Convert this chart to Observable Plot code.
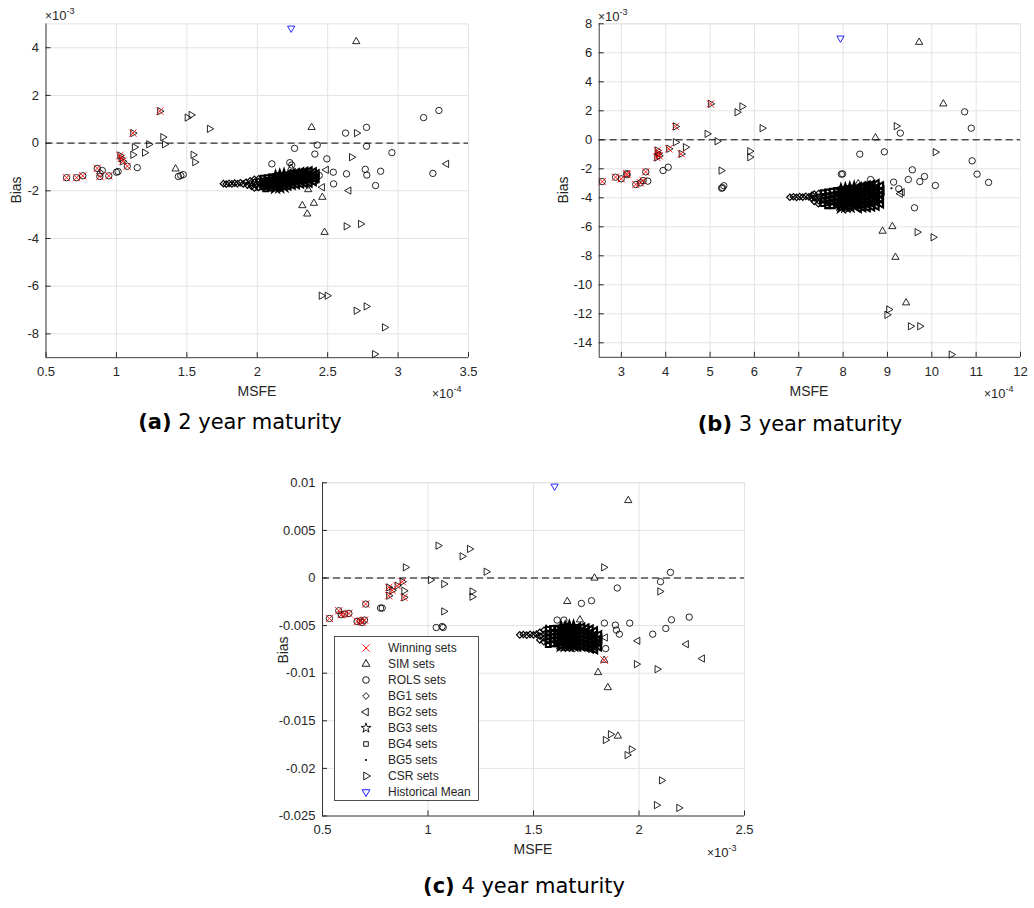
<!DOCTYPE html>
<html><head><meta charset="utf-8">
<script src="https://cdn.jsdelivr.net/npm/d3@7"></script>
<script src="https://cdn.jsdelivr.net/npm/@observablehq/plot@0.6"></script>
<style>
html,body{margin:0;padding:0;background:#fff;}
body{width:1034px;height:908px;position:relative;overflow:hidden;font-family:"Liberation Sans",Arial,sans-serif;}
.panel{position:absolute}
.lbl{position:absolute;font-size:14px;line-height:16px;color:#262626;white-space:nowrap}
.ex{font-size:13px}
.cap{position:absolute;font-family:"DejaVu Sans",sans-serif;font-size:21px;line-height:21px;color:#000;white-space:nowrap;transform:translateX(-50%)}
.sup{font-size:9px;position:relative;top:-6px}
.tm{font-size:12px}
</style></head><body>
<script>
// ---------------- Panel (a): 2 year maturity (MSFE x1e-4, Bias x1e-3) ----------------
const A_xTicks = [0.5,1,1.5,2,2.5,3,3.5];
const A_yTicks = [-8,-6,-4,-2,0,2,4];
const A_win = [[0.646,-1.45],[0.717,-1.45],[0.761,-1.37],[0.864,-1.06],[0.882,-1.40],[0.946,-1.37],[1.077,-0.97],[1.025,-0.52],[1.035,-0.64],[1.045,-0.76],[1.117,0.42],[1.308,1.34]];
const A_rols = [[0.646,-1.45],[0.717,-1.45],[0.761,-1.37],[0.864,-1.06],[0.882,-1.40],[0.946,-1.37],[1.077,-0.97],[0.900,-1.15],[0.885,-1.27],[1.000,-1.22],[1.012,-1.19],[1.148,-1.03],[1.440,-1.40],[1.457,-1.36],[1.474,-1.32],[2.265,-0.22],[2.426,-0.08],[2.409,-0.46],[2.494,-0.66],[2.627,0.42],[2.776,0.66],[2.776,-0.13],[2.956,-0.40],[3.181,1.07],[3.290,1.37],[2.104,-0.87],[2.231,-0.82],[2.245,-0.92],[2.767,-1.10],[2.876,-1.18],[2.634,-1.29],[2.778,-1.34],[2.540,-1.22],[2.440,-1.36],[2.542,-1.71],[2.840,-1.78],[3.247,-1.27]];
const A_csr = [[1.025,-0.52],[1.035,-0.64],[1.045,-0.76],[1.117,0.42],[1.308,1.34],[1.128,-0.17],[1.117,-0.49],[1.200,-0.40],[1.230,-0.05],[1.330,0.25],[1.342,-0.05],[1.503,1.07],[1.531,1.18],[1.661,0.60],[1.545,-0.49],[1.557,-0.80],[2.705,0.42],[2.670,-0.59],[2.632,-3.49],[2.734,-3.39],[2.455,-6.40],[2.497,-6.40],[2.703,-7.03],[2.774,-6.85],[2.904,-7.73],[2.833,-8.85]];
const A_sim = [[1.420,-1.08],[2.703,4.26],[2.386,0.66],[2.362,-1.95],[2.462,-2.27],[2.402,-2.52],[2.320,-2.62],[2.355,-2.97],[2.478,-3.74],[2.240,-1.05]];
const A_hist = [[2.241,4.82]];
const A_bg1 = [[1.76,-1.70],[1.78,-1.72],[1.80,-1.69],[1.82,-1.71],[1.84,-1.68],[1.86,-1.70],[1.88,-1.66],[1.90,-1.71],[1.92,-1.64],[1.93,-1.76],[1.95,-1.58],[1.95,-1.70],[1.96,-1.82],[1.98,-1.52],[1.98,-1.64],[1.99,-1.76],[1.98,-1.88],[2.01,-1.50],[2.01,-1.62],[2.02,-1.74],[2.01,-1.86]];
const A_bg4 = [[2.04,-1.47],[2.04,-1.59],[2.05,-1.71],[2.04,-1.83],[2.07,-1.45],[2.07,-1.57],[2.08,-1.69],[2.07,-1.81],[2.06,-1.92],[2.10,-1.42],[2.10,-1.54],[2.11,-1.66],[2.10,-1.78],[2.10,-1.88]];
const A_bg3 = [[2.13,-1.40],[2.13,-1.52],[2.14,-1.64],[2.13,-1.76],[2.13,-1.86],[2.16,-1.36],[2.16,-1.48],[2.17,-1.60],[2.16,-1.72],[2.16,-1.84],[2.19,-1.33],[2.19,-1.45],[2.20,-1.57],[2.19,-1.69],[2.19,-1.81]];
const A_bg2 = [[2.22,-1.30],[2.22,-1.42],[2.23,-1.54],[2.22,-1.66],[2.22,-1.78],[2.25,-1.27],[2.25,-1.39],[2.26,-1.51],[2.25,-1.63],[2.25,-1.75],[2.28,-1.25],[2.28,-1.37],[2.29,-1.49],[2.28,-1.61],[2.28,-1.73],[2.31,-1.22],[2.31,-1.34],[2.32,-1.46],[2.31,-1.58],[2.31,-1.70],[2.34,-1.20],[2.34,-1.32],[2.35,-1.44],[2.34,-1.56],[2.34,-1.68],[2.37,-1.18],[2.37,-1.30],[2.38,-1.42],[2.37,-1.54],[2.37,-1.66],[2.40,-1.22],[2.40,-1.35],[2.41,-1.48],[2.40,-1.60],[2.42,-1.30],[2.42,-1.45]];
const A_bg2_scatter = [[3.344,-0.87],[2.49,-1.12],[2.462,-1.85],[2.65,-1.99]];
const A_bg5 = [[2.12,-1.35],[2.18,-1.30],[2.26,-1.22],[2.33,-1.15],[2.15,-1.92],[2.24,-1.86],[2.36,-1.78],[2.00,-1.96]];

// ---------------- Panel (b): 3 year maturity (MSFE x1e-4, Bias x1e-3) ----------------
const B_xTicks = [3,4,5,6,7,8,9,10,11,12];
const B_yTicks = [-14,-12,-10,-8,-6,-4,-2,0,2,4,6,8];
const B_win = [[2.568,-2.88],[2.868,-2.58],[2.996,-2.69],[3.13,-2.41],[3.12,-2.33],[3.325,-3.08],[3.43,-2.97],[3.49,-2.81],[3.55,-2.21],[3.81,-0.74],[3.83,-0.95],[3.85,-1.10],[3.80,-1.22],[4.07,-0.62],[4.22,0.92],[4.35,-0.97],[5.01,2.48]];
const B_rols = [[2.568,-2.88],[2.868,-2.58],[2.996,-2.69],[3.13,-2.41],[3.12,-2.33],[3.325,-3.08],[3.43,-2.97],[3.49,-2.81],[3.55,-2.21],[3.596,-2.85],[3.94,-2.12],[4.056,-1.89],[5.26,-3.34],[5.31,-3.17],[5.28,-3.30],[10.74,1.93],[10.89,0.80],[9.29,0.46],[8.376,-0.99],[8.93,-0.83],[10.91,-1.45],[11.02,-2.37],[11.28,-2.94],[9.56,-2.07],[9.835,-2.53],[9.73,-2.88],[9.47,-2.74],[10.08,-3.15],[9.14,-2.92],[9.255,-3.38],[7.96,-2.37],[7.99,-2.35],[9.61,-4.69],[8.62,-2.74],[8.58,-3.10]];
const B_csr = [[3.81,-0.74],[3.83,-0.95],[3.85,-1.10],[3.80,-1.22],[4.07,-0.62],[4.22,0.92],[4.35,-0.97],[5.01,2.48],[4.22,-0.17],[4.446,-0.51],[4.935,0.41],[5.16,-0.10],[5.25,-2.12],[5.61,1.90],[5.72,2.30],[6.175,0.80],[5.896,-0.79],[5.896,-1.20],[9.20,0.94],[10.08,-0.85],[9.67,-6.37],[10.03,-6.72],[9.03,-11.70],[8.99,-12.07],[9.52,-12.86],[9.73,-12.86],[10.44,-14.81]];
const B_sim = [[9.715,6.73],[10.26,2.48],[8.73,0.14],[8.89,-6.30],[9.11,-5.98],[9.18,-8.10],[9.42,-11.24],[8.34,-3.03],[8.85,-3.60]];
const B_hist = [[7.94,7.01]];
const B_bg1 = [[6.80,-3.96],[6.88,-3.93],[6.95,-3.97],[7.02,-3.92],[7.09,-3.95],[7.16,-3.90],[7.23,-3.94],[7.30,-3.82],[7.30,-4.05],[7.35,-3.75],[7.36,-4.00],[7.35,-4.25],[7.45,-3.70],[7.46,-3.95],[7.45,-4.20],[7.44,-4.40]];
const B_bg4 = [[7.55,-3.65],[7.56,-3.90],[7.55,-4.15],[7.54,-4.40],[7.65,-3.60],[7.66,-3.85],[7.65,-4.10],[7.64,-4.35],[7.65,-4.55],[7.75,-3.55],[7.76,-3.80],[7.75,-4.05],[7.74,-4.30],[7.75,-4.55],[7.85,-3.50],[7.86,-3.75],[7.85,-4.00],[7.84,-4.25],[7.85,-4.50]];
const B_bg3 = [[7.95,-3.45],[7.96,-3.70],[7.95,-3.95],[7.94,-4.20],[7.95,-4.45],[7.96,-4.65],[8.05,-3.40],[8.06,-3.65],[8.05,-3.90],[8.04,-4.15],[8.05,-4.40],[8.06,-4.60],[8.15,-3.35],[8.16,-3.60],[8.15,-3.85],[8.14,-4.10],[8.15,-4.35],[8.16,-4.60],[8.25,-3.30],[8.26,-3.55],[8.25,-3.80],[8.24,-4.05],[8.25,-4.30],[8.26,-4.55]];
const B_bg2 = [[8.35,-3.25],[8.36,-3.50],[8.35,-3.75],[8.34,-4.00],[8.35,-4.25],[8.36,-4.50],[8.35,-4.70],[8.45,-3.20],[8.46,-3.45],[8.45,-3.70],[8.44,-3.95],[8.45,-4.20],[8.46,-4.45],[8.45,-4.65],[8.55,-3.15],[8.56,-3.40],[8.55,-3.65],[8.54,-3.90],[8.55,-4.15],[8.56,-4.40],[8.55,-4.65],[8.65,-3.10],[8.66,-3.35],[8.65,-3.60],[8.64,-3.85],[8.65,-4.10],[8.66,-4.35],[8.65,-4.60],[8.75,-3.05],[8.76,-3.30],[8.75,-3.55],[8.74,-3.80],[8.75,-4.05],[8.76,-4.30],[8.75,-4.55],[8.85,-3.20],[8.86,-3.50],[8.85,-3.80],[8.84,-4.10],[8.85,-4.40]];
const B_bg2_scatter = [[9.33,-3.61],[9.29,-3.72]];
const B_bg5 = [[7.60,-3.45],[7.90,-3.30],[8.20,-3.15],[8.50,-2.95],[7.70,-4.65],[8.10,-4.75],[8.60,-4.78],[9.09,-3.34]];

// ---------------- Panel (c): 4 year maturity (MSFE x1e-3, Bias) ----------------
const C_xTicks = [0.5,1,1.5,2,2.5];
const C_yTicks = [-0.025,-0.02,-0.015,-0.01,-0.005,0,0.005,0.01];
const C_win = [[0.533,-0.00425],[0.577,-0.00344],[0.589,-0.00386],[0.605,-0.00378],[0.625,-0.00372],[0.664,-0.00457],[0.680,-0.00450],[0.688,-0.00467],[0.699,-0.00442],[0.705,-0.00274],[0.814,-0.00099],[0.814,-0.00186],[0.830,-0.0013],[0.854,-0.00081],[0.878,-0.00039],[0.886,-0.00204],[1.835,-0.00863]];
const C_rols = [[0.533,-0.00425],[0.577,-0.00344],[0.589,-0.00386],[0.605,-0.00378],[0.625,-0.00372],[0.664,-0.00457],[0.680,-0.00450],[0.688,-0.00467],[0.699,-0.00442],[0.705,-0.00274],[0.783,-0.00316],[0.775,-0.00316],[1.039,-0.0052],[1.067,-0.0051],[1.072,-0.0052],[2.149,0.00059],[2.102,-0.00039],[1.897,-0.00105],[1.775,-0.00239],[1.727,-0.00267],[1.612,-0.00442],[1.644,-0.00442],[1.836,-0.00474],[1.888,-0.00495],[1.956,-0.00474],[1.893,-0.00547],[1.907,-0.0059],[2.065,-0.0059],[2.127,-0.0053],[2.154,-0.00439],[2.238,-0.00411],[1.842,-0.00741],[1.630,-0.0073],[1.655,-0.0073],[1.690,-0.0074]];
const C_csr = [[0.814,-0.00099],[0.814,-0.00186],[0.830,-0.0013],[0.854,-0.00081],[0.878,-0.00039],[0.886,-0.00204],[0.893,0.00112],[0.886,-0.00134],[1.012,-0.00021],[1.048,0.0034],[1.075,-0.00063],[1.075,-0.00351],[1.162,0.00228],[1.197,0.00305],[1.276,0.00066],[1.209,-0.00141],[1.209,-0.00197],[1.833,0.00112],[2.099,-0.00141],[1.988,-0.00905],[2.086,-0.00958],[1.865,-0.01642],[1.841,-0.01702],[1.944,-0.0186],[1.964,-0.018],[2.107,-0.02126],[2.083,-0.02386],[2.189,-0.02415]];
const C_sim = [[1.949,0.00814],[1.789,0.0],[1.660,-0.00246],[1.720,-0.00439],[1.835,-0.00863],[1.806,-0.00993],[1.852,-0.01151],[1.900,-0.0166],[1.700,-0.0073]];
const C_hist = [[1.60,0.00964]];
const C_bg1 = [[1.435,-0.00597],[1.452,-0.00594],[1.468,-0.00600],[1.484,-0.00592],[1.500,-0.00598],[1.515,-0.00590],[1.53,-0.0057],[1.531,-0.0061],[1.53,-0.0065],[1.55,-0.0055],[1.551,-0.0059],[1.55,-0.0063],[1.549,-0.0067]];
const C_bg4 = [[1.57,-0.0054],[1.571,-0.0058],[1.57,-0.0062],[1.569,-0.0066],[1.57,-0.0070],[1.59,-0.0053],[1.591,-0.0057],[1.59,-0.0061],[1.589,-0.0065],[1.59,-0.0069],[1.61,-0.0053],[1.611,-0.0057],[1.61,-0.0061],[1.609,-0.0065],[1.61,-0.0069]];
const C_bg3 = [[1.63,-0.0052],[1.631,-0.0056],[1.63,-0.0060],[1.629,-0.0064],[1.63,-0.0068],[1.631,-0.0071],[1.65,-0.0052],[1.651,-0.0056],[1.65,-0.0060],[1.649,-0.0064],[1.65,-0.0068],[1.651,-0.0071],[1.67,-0.0051],[1.671,-0.0055],[1.67,-0.0059],[1.669,-0.0063],[1.67,-0.0067],[1.671,-0.0071],[1.69,-0.0051],[1.691,-0.0055],[1.69,-0.0059],[1.689,-0.0063],[1.69,-0.0067],[1.691,-0.0071]];
const C_bg2 = [[1.71,-0.0052],[1.711,-0.0056],[1.71,-0.0060],[1.709,-0.0064],[1.71,-0.0068],[1.711,-0.0072],[1.73,-0.0052],[1.731,-0.0056],[1.73,-0.0060],[1.729,-0.0064],[1.73,-0.0068],[1.731,-0.0072],[1.75,-0.0053],[1.751,-0.0057],[1.75,-0.0061],[1.749,-0.0065],[1.75,-0.0069],[1.751,-0.0073],[1.77,-0.0054],[1.771,-0.0058],[1.77,-0.0062],[1.769,-0.0066],[1.77,-0.0070],[1.771,-0.0074],[1.79,-0.0056],[1.791,-0.0060],[1.79,-0.0064],[1.789,-0.0068],[1.79,-0.0072],[1.791,-0.0075],[1.81,-0.0060],[1.811,-0.0064],[1.81,-0.0068],[1.809,-0.0072]];
const C_bg2_scatter = [[1.84,-0.00625],[1.80,-0.0070],[1.994,-0.0066],[2.224,-0.00695],[2.30,-0.00846]];
const C_bg5 = [[1.56,-0.0050],[1.66,-0.0048],[1.76,-0.0049],[1.62,-0.0074],[1.72,-0.0076]];

// legend
const legendLabels = ["Winning sets","SIM sets","ROLS sets","BG1 sets","BG2 sets","BG3 sets","BG4 sets","BG5 sets","CSR sets","Historical Mean"];
const captions = [["(a)"," 2 year maturity"],["(b)"," 3 year maturity"],["(c)"," 4 year maturity"]];

const X = d => d[0], Y = d => d[1];
const fmt = d => String(d);
const GRID = "#e3e3e3", AX = "#262626";

function drawPanel(P) {
  const plotW = P.w - P.ml - P.mr, plotH = P.h - P.mt - P.mb;
  const dot = (data, o) => Plot.dot(data, {x: X, y: Y, fill: "none", stroke: "#000", strokeWidth: 0.85, ...o});
  const bg = (data, o) => Plot.dot(data, {x: X, y: Y, fill: "none", stroke: "#000", strokeWidth: 2.1, ...o});
  const chart = Plot.plot({
    width: P.w, height: P.h,
    marginLeft: P.ml, marginRight: P.mr, marginTop: P.mt, marginBottom: P.mb,
    x: {type: "linear", domain: P.xd},
    y: {type: "linear", domain: P.yd},
    style: {background: "transparent", fontFamily: "'Liberation Sans', Arial, sans-serif", fontSize: "13px", color: AX, overflow: "visible"},
    marks: [
      Plot.ruleX(P.xt, {x: d => d, stroke: GRID, strokeWidth: 1}),
      Plot.ruleY(P.yt, {y: d => d, stroke: GRID, strokeWidth: 1}),
      Plot.ruleY([P.yd[1]], {stroke: GRID, strokeWidth: 1}),
      Plot.ruleX([P.xd[1]], {stroke: GRID, strokeWidth: 1}),
      Plot.ruleY([0], {stroke: "#000", strokeDasharray: "7,4", strokeWidth: 1}),
      bg(P.bg1, {symbol: "diamond2", r: 2.9, strokeWidth: 1.2}),
      bg(P.bg4, {symbol: "square", r: 2.7}),
      bg(P.bg3, {symbol: "star", r: 3.1}),
      bg(P.bg2, {symbol: "triangle", r: 2.9, rotate: -90}),
      dot(P.bg2s, {symbol: "triangle", r: 2.7, rotate: -90}),
      Plot.dot(P.bg5, {x: X, y: Y, r: 1.1, fill: "#000"}),
      dot(P.rols, {symbol: "circle", r: 3.2}),
      dot(P.sim, {symbol: "triangle", r: 2.7}),
      dot(P.csr, {symbol: "triangle", r: 2.7, rotate: 90}),
      dot(P.win, {symbol: "times", r: 3.4, stroke: "#ff0000"}),
      dot(P.hist, {symbol: "triangle", r: 2.7, rotate: 180, stroke: "#0000ff"}),
      Plot.ruleX([P.xd[0]], {stroke: AX, strokeWidth: 0.9}),
      Plot.ruleY([P.yd[0]], {stroke: AX, strokeWidth: 0.9}),
      Plot.tickX(P.xt, {x: d => d, insetTop: plotH - 5, stroke: AX}),
      Plot.tickY(P.yt, {y: d => d, insetRight: plotW - 5, stroke: AX}),
      Plot.axisX({ticks: P.xt, tickSize: 0, tickPadding: 9, tickFormat: fmt, label: null, fill: AX}),
      Plot.axisY({ticks: P.yt, tickSize: 0, tickPadding: 7, tickFormat: fmt, label: null, fill: AX})
    ]
  });
  const div = document.createElement("div");
  div.className = "panel";
  div.style.left = P.left + "px";
  div.style.top = P.top + "px";
  div.appendChild(chart);
  document.body.appendChild(div);
}

function lbl(html, x, y, mode, cls) {
  const d = document.createElement("div");
  d.className = "lbl" + (cls ? " " + cls : "");
  d.innerHTML = html;
  d.style.left = x + "px";
  d.style.top = y + "px";
  d.style.transform = mode === "rot" ? "translate(-50%,-50%) rotate(-90deg)" : mode === "c" ? "translate(-50%,-50%)" : "translate(0,-50%)";
  document.body.appendChild(d);
}
function cap(c, x, y) {
  const d = document.createElement("div");
  d.className = "cap";
  d.innerHTML = "<b>" + c[0] + "</b>" + c[1];
  d.style.left = x + "px";
  d.style.top = y + "px";
  document.body.appendChild(d);
}

drawPanel({left: 0, top: 0, w: 500, h: 400, ml: 45.5, mr: 32, mt: 23.4, mb: 42.8,
  xd: [0.5, 3.5], yd: [-9, 5], xt: A_xTicks, yt: A_yTicks,
  win: A_win, rols: A_rols, csr: A_csr, sim: A_sim, hist: A_hist, bg1: A_bg1, bg2: A_bg2, bg2s: A_bg2_scatter, bg3: A_bg3, bg4: A_bg4, bg5: A_bg5});
drawPanel({left: 560, top: 0, w: 474, h: 400, ml: 38.7, mr: 14, mt: 23.3, mb: 43.2,
  xd: [2.5, 12], yd: [-15, 8], xt: B_xTicks, yt: B_yTicks,
  win: B_win, rols: B_rols, csr: B_csr, sim: B_sim, hist: B_hist, bg1: B_bg1, bg2: B_bg2, bg2s: B_bg2_scatter, bg3: B_bg3, bg4: B_bg4, bg5: B_bg5});
drawPanel({left: 270, top: 450, w: 500, h: 400, ml: 52, mr: 26, mt: 32.3, mb: 34.5,
  xd: [0.5, 2.5], yd: [-0.025, 0.01], xt: C_xTicks, yt: C_yTicks,
  win: C_win, rols: C_rols, csr: C_csr, sim: C_sim, hist: C_hist, bg1: C_bg1, bg2: C_bg2, bg2s: C_bg2_scatter, bg3: C_bg3, bg4: C_bg4, bg5: C_bg5});

// axis labels and exponents
const exp = e => '<span class="tm">×</span>10<span class="sup">' + e + '</span>';
lbl("MSFE", 257, 391, "c");
lbl("Bias", 16, 190, "rot");
lbl(exp("-3"), 45, 16, null, "ex");
lbl(exp("-4"), 432, 394, null, "ex");
lbl("MSFE", 809, 391, "c");
lbl("Bias", 563, 190, "rot");
lbl(exp("-3"), 598, 17, null, "ex");
lbl(exp("-4"), 984, 394, null, "ex");
lbl("MSFE", 533, 849, "c");
lbl("Bias", 283, 650, "rot");
lbl(exp("-3"), 707, 853, null, "ex");

cap(captions[0], 240, 412);
cap(captions[1], 800, 414);
cap(captions[2], 524, 876);

// legend for panel (c)
(function () {
  const sz = r => r * r * Math.PI;
  const items = [
    {sym: d3.symbolTimes, r: 3.4, rot: 0, stroke: "#ff0000"},
    {sym: d3.symbolTriangle, r: 2.9, rot: 0},
    {sym: d3.symbolCircle, r: 3.3, rot: 0},
    {sym: d3.symbolDiamond2, r: 3.0, rot: 0},
    {sym: d3.symbolTriangle, r: 2.9, rot: -90},
    {sym: d3.symbolStar, r: 3.1, rot: 0},
    {sym: d3.symbolSquare, r: 2.6, rot: 0},
    {sym: d3.symbolCircle, r: 1.1, rot: 0, fill: "#000"},
    {sym: d3.symbolTriangle, r: 2.9, rot: 90},
    {sym: d3.symbolTriangle, r: 2.9, rot: 180, stroke: "#0000ff"}
  ];
  const svg = d3.select("body").append("svg")
    .attr("width", 146).attr("height", 166)
    .style("position", "absolute").style("left", "334px").style("top", "636px");
  svg.append("rect").attr("x", 0.5).attr("y", 0.5).attr("width", 144).attr("height", 164)
    .attr("fill", "#fff").attr("stroke", AX).attr("stroke-width", 0.8);
  items.forEach((it, i) => {
    const cy = 12 + i * 16;
    svg.append("path")
      .attr("d", d3.symbol(it.sym, sz(it.r))())
      .attr("transform", `translate(32,${cy}) rotate(${it.rot})`)
      .attr("fill", it.fill || "none")
      .attr("stroke", it.fill ? "none" : (it.stroke || "#000"))
      .attr("stroke-width", 0.9);
    svg.append("text").attr("x", 54).attr("y", cy).attr("dy", "0.35em")
      .attr("font-family", "'Liberation Sans', Arial, sans-serif").attr("font-size", 12)
      .attr("fill", AX).text(legendLabels[i]);
  });
})();
</script>
</body></html>
